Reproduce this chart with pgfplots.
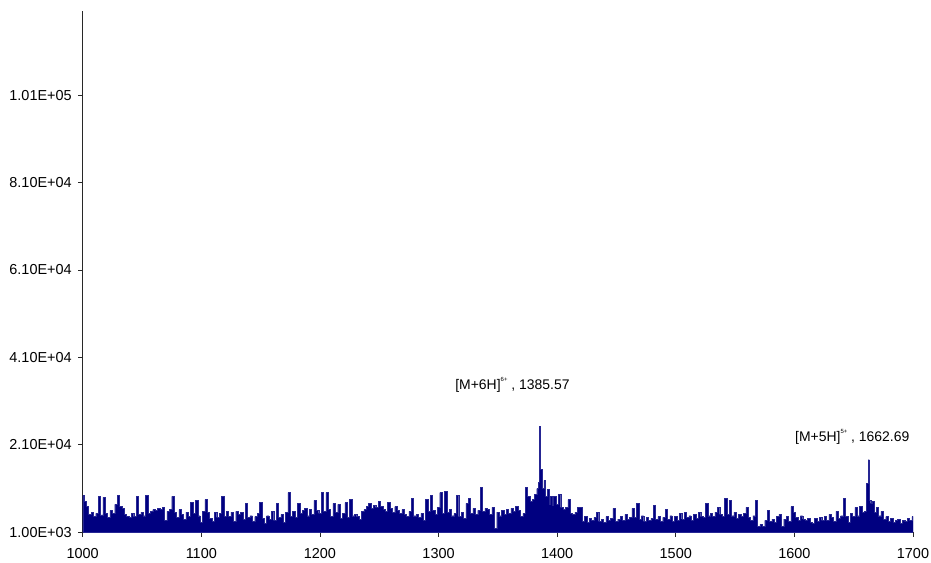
\documentclass[border=0pt]{standalone}
\usepackage{fontspec}
\setmainfont{Liberation Sans}
\usepackage{pgfplots}
\pgfplotsset{compat=1.18}
\definecolor{specblue}{RGB}{0,0,128}
\definecolor{axisgray}{RGB}{40,40,40}

\begin{document}
\begin{tikzpicture}
\begin{axis}[
  scale only axis,
  width=830.3bp, height=521.6bp,
  xmin=1000, xmax=1700,
  ymin=1000, ymax=120300,
  axis lines*=left,
  axis line style={axisgray, line width=0.8bp},
  tick style={axisgray, line width=0.8bp},
  tick align=outside,
  major tick length=4.5bp,
  xtick={1000,1100,1200,1300,1400,1500,1600,1700},
  xticklabels={1000,1100,1200,1300,1400,1500,1600,1700},
  ytick={1000,21000,41000,61000,81000,101000},
  yticklabels={1.00E+03,2.10E+04,4.10E+04,6.10E+04,8.10E+04,1.01E+05},
  ticklabel style={font=\fontsize{14.5}{16}\selectfont, text=black},
  /pgf/number format/assume math mode=true,
  xticklabel style={yshift=-8bp},
  yticklabel style={xshift=-3bp},
  clip=true,
]
% mass spectrum, m/z 1000-1700, intensity in counts
\addplot[const plot mark mid, draw=specblue!85!white, fill=specblue, line width=0.3bp] coordinates {
(1000,9400)(1002,8100)(1004,6900)(1006,5100)(1008,5600)(1010,4600)(1012,5300)(1014,9200)(1016,5000)(1018,9000)
(1020,5300)(1022,4400)(1024,6000)(1026,5300)(1028,7400)(1030,9400)(1032,7000)(1034,6500)(1036,5100)(1038,4600)
(1040,4400)(1042,5300)(1044,4600)(1046,9200)(1048,5100)(1050,5600)(1052,4800)(1054,9400)(1056,5300)(1058,5800)
(1060,6200)(1062,6000)(1064,6500)(1066,6200)(1068,6700)(1070,3800)(1072,5800)(1074,6200)(1076,9200)(1078,5600)
(1080,4400)(1082,6200)(1084,5100)(1086,4000)(1088,5600)(1090,4600)(1092,7800)(1094,5300)(1096,8300)(1098,4800)
(1100,3300)(1102,5800)(1104,8500)(1106,5600)(1108,4200)(1110,3500)(1112,5600)(1114,4400)(1116,5300)(1118,9200)
(1120,4600)(1122,5800)(1124,4600)(1126,5600)(1128,3500)(1130,5800)(1132,5100)(1134,5600)(1136,4000)(1138,7600)
(1140,4400)(1142,4800)(1144,3500)(1146,4600)(1148,5300)(1150,7800)(1152,4200)(1154,3100)(1156,4800)(1158,4000)
(1160,5800)(1162,3700)(1164,7600)(1166,4400)(1168,5100)(1170,3300)(1172,5600)(1174,10100)(1176,4600)(1178,5800)
(1180,4400)(1182,7600)(1184,5300)(1186,6000)(1188,6500)(1190,4800)(1192,6200)(1194,5100)(1196,8300)(1198,6000)
(1200,5300)(1202,10100)(1204,5800)(1206,10100)(1208,6200)(1210,4600)(1212,7600)(1214,5600)(1216,7400)(1218,4200)
(1220,5300)(1222,7800)(1224,4400)(1226,8500)(1228,4800)(1230,5100)(1232,4600)(1234,4000)(1236,5800)(1238,6200)
(1240,6900)(1242,7600)(1244,6500)(1246,7200)(1248,6700)(1250,8100)(1252,6900)(1254,6200)(1256,5800)(1258,7800)
(1260,6500)(1262,5600)(1264,6900)(1266,6000)(1268,5300)(1270,6200)(1272,5100)(1274,4600)(1276,5800)(1278,8800)
(1280,4800)(1282,5100)(1284,4400)(1286,5300)(1288,3800)(1290,8500)(1292,5800)(1294,9400)(1296,6000)(1298,5100)
(1300,6700)(1302,10100)(1304,5300)(1306,10400)(1308,5600)(1310,6200)(1312,4800)(1314,5300)(1316,9400)(1318,4600)
(1320,5600)(1322,4200)(1324,7600)(1326,8800)(1328,5300)(1330,6500)(1332,5100)(1334,6000)(1336,11300)(1338,5800)
(1340,6500)(1342,6200)(1344,5100)(1346,6700)(1348,1900)(1350,5600)(1352,4800)(1354,6000)(1356,5100)(1358,6200)
(1360,5300)(1362,6500)(1364,5800)(1366,6900)(1368,6000)(1370,4600)(1372,5300)(1374,11300)(1376,9200)(1378,8100)
(1380,8500)(1382,9700)(1383.5,11000)(1384.6,12400)(1385.57,25300)(1386.5,15400)(1388,11000)(1389.5,12900)
(1391,9200)(1392,10800)(1394,7400)(1395,9200)(1396,7200)(1398,9200)(1400,7400)(1402,9700)(1404,6700)(1406,6200)
(1408,6700)(1410,8500)(1412,5300)(1414,5100)(1416,5600)(1418,6700)(1420,6700)(1422,3500)(1424,4600)(1426,3300)
(1428,4200)(1430,3700)(1432,4400)(1434,5600)(1436,3500)(1438,4000)(1440,3300)(1442,4600)(1444,3700)(1446,4200)
(1448,6500)(1450,3500)(1452,4000)(1454,4600)(1456,3700)(1458,5100)(1460,4000)(1462,4400)(1464,6500)(1466,4400)
(1468,7600)(1470,4000)(1472,4800)(1474,3500)(1476,4400)(1478,3700)(1480,4200)(1482,7200)(1484,4000)(1486,4600)
(1488,3500)(1490,4400)(1492,6200)(1494,4000)(1496,4800)(1498,3500)(1500,4600)(1502,3700)(1504,5300)(1506,4000)
(1508,5600)(1510,4400)(1512,4800)(1514,3700)(1516,5100)(1518,4200)(1520,5600)(1522,4600)(1524,4400)(1526,7600)
(1528,4800)(1530,5300)(1532,4600)(1534,5600)(1536,6700)(1538,5100)(1540,4600)(1542,8800)(1544,5100)(1546,8300)
(1548,4800)(1550,5600)(1552,4200)(1554,5100)(1556,4600)(1558,5300)(1560,6700)(1562,4400)(1564,3700)(1566,4800)
(1568,8300)(1570,2400)(1572,2800)(1574,2400)(1576,3700)(1578,6000)(1580,3500)(1582,4000)(1584,3300)(1586,4600)
(1588,5100)(1590,2400)(1592,4000)(1594,4600)(1596,3500)(1598,6900)(1600,5600)(1602,4400)(1604,3700)(1606,4800)
(1608,4000)(1610,3700)(1612,4200)(1614,3300)(1616,3100)(1618,4200)(1620,3500)(1622,4400)(1624,3700)(1626,4600)
(1628,3800)(1630,5100)(1632,4400)(1634,3500)(1636,5800)(1638,4200)(1640,4800)(1642,8800)(1644,4600)(1646,3300)
(1648,5300)(1650,4600)(1652,6700)(1654,4800)(1656,6900)(1658,5600)(1660,5800)(1661.8,12200)(1662.69,17600)
(1663.6,8300)(1665,7600)(1666,8100)(1668,5600)(1670,6700)(1672,4800)(1674,5800)(1676,4000)(1678,4600)(1680,3500)
(1682,4200)(1684,3300)(1686,3700)(1688,4000)(1690,3100)(1692,3800)(1694,3500)(1696,4200)(1698,3800)(1700,4600)
} \closedcycle;
% peak annotations
\node[anchor=base west, inner sep=0pt, font=\fontsize{14}{16}\selectfont]
  at (axis cs:1314,33700) {[M+6H]\raisebox{0.58em}{\fontsize{6}{6}\selectfont 6+} , 1385.57};
\node[anchor=base west, inner sep=0pt, font=\fontsize{14}{16}\selectfont]
  at (axis cs:1600.5,21700) {[M+5H]\raisebox{0.58em}{\fontsize{6}{6}\selectfont 5+} , 1662.69};
\end{axis}
\pgfresetboundingbox
\path[use as bounding box] (-82.7bp,-30.7bp) rectangle (848.3bp,532.3bp);
\end{tikzpicture}
\end{document}
